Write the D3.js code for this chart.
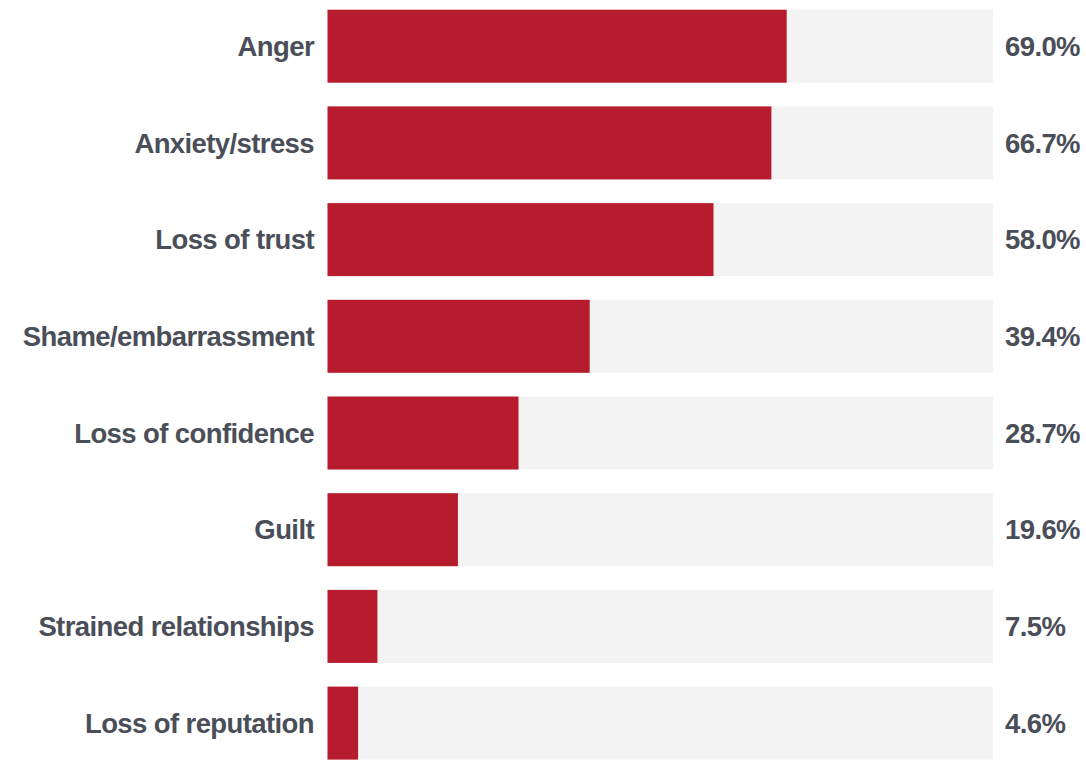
<!DOCTYPE html>
<html><head><meta charset="utf-8">
<script src="https://cdn.jsdelivr.net/npm/d3@7"></script>
<style>
html,body{margin:0;padding:0;background:#fff;}
svg{display:block;}
text{font-family:"Liberation Sans",Arial,sans-serif;font-weight:bold;fill:#4a4e58;letter-spacing:-0.6px;}
</style></head>
<body><svg id="c" width="1086" height="760"></svg>
<script>
const categories = ["Anger","Anxiety/stress","Loss of trust","Shame/embarrassment","Loss of confidence","Guilt","Strained relationships","Loss of reputation"];
const values = [69.0,66.7,58.0,39.4,28.7,19.6,7.5,4.6];
const valueLabels = ["69.0%","66.7%","58.0%","39.4%","28.7%","19.6%","7.5%","4.6%"];

const svg = d3.select("#c");
const x = d3.scaleLinear().domain([0,100]).range([327.5,993]);
const step = 96.7, padIn = 0.245;
const y = d3.scaleBand().domain(categories).range([9.7, 9.7+step*(categories.length-padIn)]).paddingInner(padIn).paddingOuter(0);

const g = svg.append("g");
const rows = g.selectAll("g.row").data(categories).join("g").attr("class","row");

rows.append("rect")
  .attr("x", x(0)).attr("y", d=>y(d))
  .attr("width", x(100)-x(0)).attr("height", y.bandwidth())
  .attr("fill","#f3f3f3");

rows.append("rect")
  .attr("x", x(0)).attr("y", d=>y(d))
  .attr("width", (d,i)=>x(values[i])-x(0)).attr("height", y.bandwidth())
  .attr("fill","#b71c2e");

rows.append("text")
  .attr("x", 314).attr("y", d=>y(d)+y.bandwidth()/2)
  .attr("dy","0.35em").attr("text-anchor","end")
  .attr("font-size","27.5px")
  .text(d=>d);

rows.append("text")
  .attr("x", 1005).attr("y", d=>y(d)+y.bandwidth()/2)
  .attr("dy","0.35em").attr("text-anchor","start")
  .attr("font-size","27.5px")
  .text((d,i)=>valueLabels[i]);
</script></body></html>
